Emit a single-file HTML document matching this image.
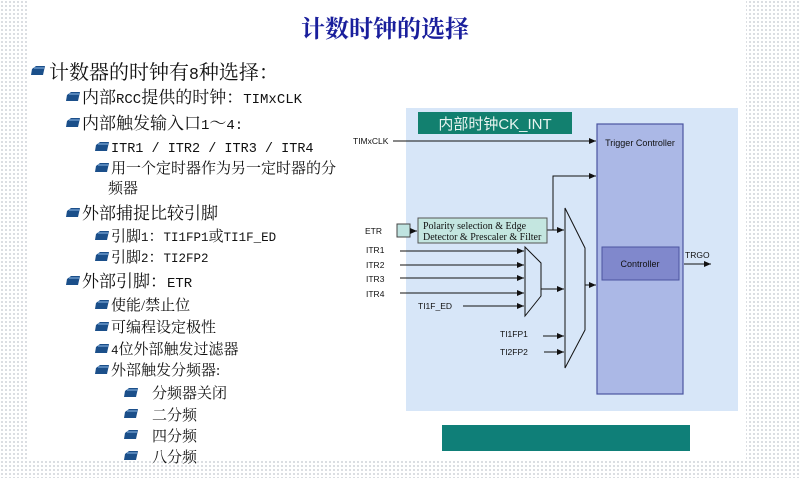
<!DOCTYPE html>
<html><head><meta charset="utf-8"><style>
html,body{margin:0;padding:0;}
body{width:800px;height:478px;overflow:hidden;position:relative;
background-color:#fff;
background-image:radial-gradient(#cfd3d8 0.8px,transparent 0.9px);background-size:4px 4px;}
.m{font-family:'Liberation Mono',monospace;}
</style></head><body>
<svg width="800" height="478" style="position:absolute;left:0;top:0" font-family="'Liberation Sans','Noto Sans CJK SC',sans-serif">
<defs>
<marker id="a" markerWidth="8" markerHeight="8" refX="7" refY="3" orient="auto" markerUnits="userSpaceOnUse"><path d="M0,0 L7,3 L0,6z" fill="#111"/></marker>
<g id="ic"><path d="M1,3 L5,0 L14,0 L12,9 L0,9z" fill="#1b4f8a"/><path d="M3,2 L13,2" stroke="#7aa7d8" stroke-width="1.2"/></g>
</defs>
<rect x="27" y="0" width="719" height="460" fill="#fff"/>
<text x="385" y="37" text-anchor="middle" font-family="'Liberation Serif','Noto Serif CJK SC',serif" font-size="24" font-weight="bold" fill="#1a1f9c">计数时钟的选择</text>
<g font-family="'Liberation Serif','Noto Serif CJK SC',serif" fill="#111">
<use href="#ic" x="31" y="66"/><text x="49" y="79" font-size="20">计数器的时钟有<tspan class="m" font-size="16.5">8</tspan>种选择：</text>
<use href="#ic" x="66" y="92"/><text x="82" y="103" font-size="17">内部<tspan class="m" font-size="14">RCC</tspan>提供的时钟：<tspan class="m" font-size="14">TIMxCLK</tspan></text>
<use href="#ic" x="66" y="118"/><text x="82" y="129" font-size="17">内部触发输入口<tspan class="m" font-size="14">1</tspan>～<tspan class="m" font-size="14">4:</tspan></text>
<use href="#ic" x="95" y="142"/><text x="111" y="152" font-size="15" class="m" font-size="13.5"><tspan font-size="13.5">ITR1 / ITR2 / ITR3 / ITR4</tspan></text>
<use href="#ic" x="95" y="163"/><text x="111" y="173" font-size="15">用一个定时器作为另一定时器的分</text>
<text x="108" y="193" font-size="15">频器</text>
<use href="#ic" x="66" y="208"/><text x="82" y="219" font-size="17">外部捕捉比较引脚</text>
<use href="#ic" x="95" y="231"/><text x="111" y="241" font-size="15">引脚<tspan class="m" font-size="12.5">1</tspan>：<tspan class="m" font-size="12.5">TI1FP1</tspan>或<tspan class="m" font-size="12.5">TI1F_ED</tspan></text>
<use href="#ic" x="95" y="252"/><text x="111" y="262" font-size="15">引脚<tspan class="m" font-size="12.5">2</tspan>：<tspan class="m" font-size="12.5">TI2FP2</tspan></text>
<use href="#ic" x="66" y="276"/><text x="82" y="287" font-size="17">外部引脚：<tspan class="m" font-size="14">ETR</tspan></text>
<use href="#ic" x="95" y="300"/><text x="111" y="310" font-size="15">使能/禁止位</text>
<use href="#ic" x="95" y="322"/><text x="111" y="332" font-size="15">可编程设定极性</text>
<use href="#ic" x="95" y="344"/><text x="111" y="354" font-size="15"><tspan class="m" font-size="12.5">4</tspan>位外部触发过滤器</text>
<use href="#ic" x="95" y="365"/><text x="111" y="375" font-size="15">外部触发分频器:</text>
<use href="#ic" x="124" y="388"/><text x="152" y="398" font-size="15">分频器关闭</text>
<use href="#ic" x="124" y="409"/><text x="152" y="420" font-size="15">二分频</text>
<use href="#ic" x="124" y="430"/><text x="152" y="441" font-size="15">四分频</text>
<use href="#ic" x="124" y="451"/><text x="152" y="462" font-size="15">八分频</text>
</g>
<rect x="406" y="108" width="332" height="303" fill="#d7e6f8"/>
<rect x="418" y="112" width="154" height="22" fill="#12806f"/>
<text x="495" y="129" text-anchor="middle" font-size="15" fill="#e8f4f0">内部时钟CK_INT</text>
<rect x="597" y="124" width="86" height="270" fill="#abb8e6" stroke="#4b55a0" stroke-width="1.2"/>
<text x="640" y="146" text-anchor="middle" font-size="9" fill="#111">Trigger Controller</text>
<rect x="602" y="247" width="77" height="33" fill="#8088cc" stroke="#4b55a0" stroke-width="1"/>
<text x="640" y="267" text-anchor="middle" font-size="9" fill="#111">Controller</text>
<rect x="442" y="425" width="248" height="26" fill="#0f7f78"/>
<g stroke="#111" stroke-width="1" fill="none">
<line x1="393" y1="141" x2="596" y2="141" marker-end="url(#a)"/>
<rect x="397" y="224" width="13" height="13" fill="#bfe3e0" stroke="#444"/>
<line x1="410" y1="231" x2="417" y2="231" marker-end="url(#a)"/>
<path d="M547,230 H564" marker-end="url(#a)"/>
<path d="M553,230 V176 H596" marker-end="url(#a)"/>
<line x1="400" y1="251" x2="524" y2="251" marker-end="url(#a)"/>
<line x1="400" y1="265" x2="524" y2="265" marker-end="url(#a)"/>
<line x1="400" y1="278" x2="524" y2="278" marker-end="url(#a)"/>
<line x1="400" y1="293" x2="524" y2="293" marker-end="url(#a)"/>
<line x1="463" y1="306" x2="524" y2="306" marker-end="url(#a)"/>
<path d="M525,247 L541,263 L541,296 L525,316 Z" fill="#d7e6f8"/>
<line x1="541" y1="289" x2="564" y2="289" marker-end="url(#a)"/>
<line x1="543" y1="336" x2="564" y2="336" marker-end="url(#a)"/>
<line x1="544" y1="352" x2="564" y2="352" marker-end="url(#a)"/>
<path d="M565,208 L585,248 L585,330 L565,368 Z"/>
<line x1="585" y1="285" x2="596" y2="285" marker-end="url(#a)"/>
<line x1="684" y1="264" x2="711" y2="264" marker-end="url(#a)"/>
</g>
<rect x="418" y="218" width="129" height="25" fill="#c4e6e0" stroke="#555" stroke-width="1"/>
<text x="423" y="229" font-family="'Liberation Serif',serif" font-size="10" fill="#111">Polarity selection &amp; Edge</text>
<text x="423" y="240" font-family="'Liberation Serif',serif" font-size="10" fill="#111">Detector &amp; Prescaler &amp; Filter</text>
<g font-size="8.5" fill="#111">
<text x="353" y="144">TIMxCLK</text>
<text x="365" y="234">ETR</text>
<text x="366" y="253">ITR1</text>
<text x="366" y="268">ITR2</text>
<text x="366" y="282">ITR3</text>
<text x="366" y="297">ITR4</text>
<text x="418" y="309">TI1F_ED</text>
<text x="500" y="337">TI1FP1</text>
<text x="500" y="355">TI2FP2</text>
<text x="685" y="258">TRGO</text>
</g>
</svg>
</body></html>
